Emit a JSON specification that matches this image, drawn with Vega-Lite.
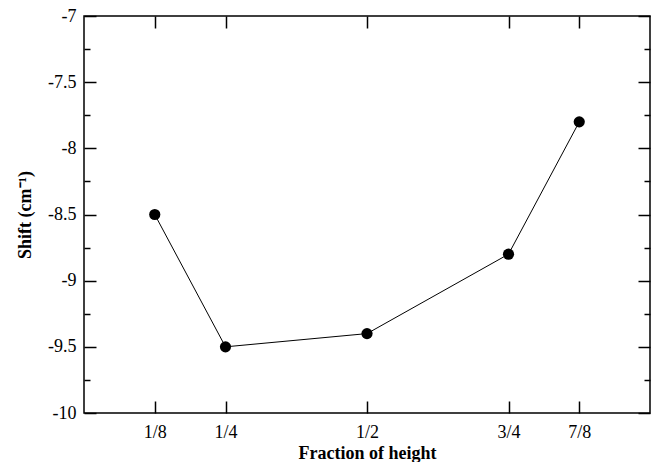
{
  "$schema": "https://vega.github.io/schema/vega-lite/v6.json",
  "autosize": {"type": "none"},
  "width": 566,
  "height": 397,
  "padding": {"left": 84, "top": 16, "right": 7, "bottom": 49},
  "background": "white",
  "config": {
    "view": {"stroke": "black", "strokeWidth": 1.5},
    "font": "Liberation Serif",
    "axis": {
      "grid": false,
      "domain": false,
      "tickColor": "black",
      "tickWidth": 1.5,
      "labelFont": "Liberation Serif",
      "labelFontSize": 18,
      "labelColor": "black",
      "titleFont": "Liberation Serif",
      "titleFontSize": 18,
      "titleFontWeight": "bold",
      "titleColor": "black"
    }
  },
  "data": {
    "values": [
      {"fraction": 0.125, "shift": -8.5},
      {"fraction": 0.25, "shift": -9.5},
      {"fraction": 0.5, "shift": -9.4},
      {"fraction": 0.75, "shift": -8.8},
      {"fraction": 0.875, "shift": -7.8}
    ]
  },
  "resolve": {"axis": {"x": "independent", "y": "independent"}},
  "layer": [
    {
      "mark": {"type": "line", "color": "black", "strokeWidth": 1},
      "encoding": {
        "x": {
          "field": "fraction", "type": "quantitative",
          "scale": {"domain": [0, 1], "nice": false, "zero": false},
          "axis": {
            "orient": "bottom",
            "title": "Fraction of height",
            "values": [0.125, 0.25, 0.5, 0.75, 0.875],
            "labelExpr": "datum.value == 0.125 ? '1/8' : datum.value == 0.25 ? '1/4' : datum.value == 0.5 ? '1/2' : datum.value == 0.75 ? '3/4' : '7/8'",
            "tickSize": -12,
            "labelPadding": 22,
            "titlePadding": 3
          }
        },
        "y": {
          "field": "shift", "type": "quantitative",
          "scale": {"domain": [-10, -7], "nice": false, "zero": false},
          "axis": {
            "orient": "left",
            "title": "Shift (cm⁻¹)",
            "values": [-10, -9.75, -9.5, -9.25, -9, -8.75, -8.5, -8.25, -8, -7.75, -7.5, -7.25, -7],
            "labelExpr": "(datum.value * 2) % 1 == 0 ? '' + datum.value : ''",
            "tickSize": {"condition": {"test": "(datum.value * 2) % 1 == 0", "value": -12}, "value": -6},
            "labelPadding": 20,
            "titlePadding": 13
          }
        }
      }
    },
    {
      "mark": {"type": "point", "filled": true, "color": "black", "opacity": 1, "size": 125},
      "encoding": {
        "x": {
          "field": "fraction", "type": "quantitative",
          "scale": {"domain": [0, 1], "nice": false, "zero": false},
          "axis": {
            "orient": "top",
            "title": null,
            "labels": false,
            "values": [0.125, 0.25, 0.5, 0.75, 0.875],
            "tickSize": -12
          }
        },
        "y": {
          "field": "shift", "type": "quantitative",
          "scale": {"domain": [-10, -7], "nice": false, "zero": false},
          "axis": {
            "orient": "right",
            "title": null,
            "labels": false,
            "values": [-10, -9.75, -9.5, -9.25, -9, -8.75, -8.5, -8.25, -8, -7.75, -7.5, -7.25, -7],
            "tickSize": {"condition": {"test": "(datum.value * 2) % 1 == 0", "value": -12}, "value": -6}
          }
        }
      }
    }
  ]
}
